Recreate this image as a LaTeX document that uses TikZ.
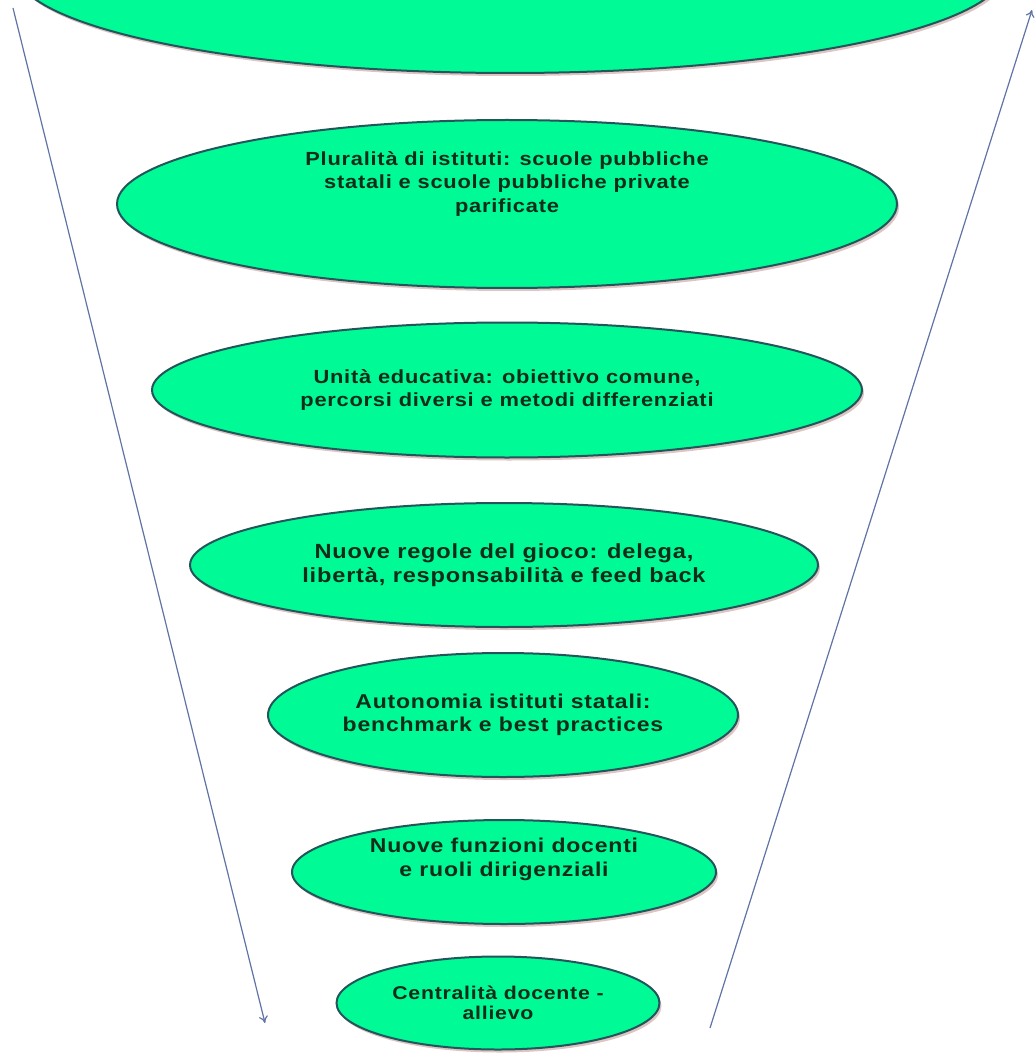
\documentclass[tikz,border=0pt]{standalone}
\usepackage{fontspec}
\setmainfont{Liberation Sans}
\newfontfamily\bubblefont[FakeStretch=1.15,LetterSpace=4]{Liberation Sans}
\usetikzlibrary{arrows.meta,shapes.geometric,shadows}
\definecolor{bubblefill}{RGB}{0,250,150}
\definecolor{bubbleline}{RGB}{35,85,90}
\definecolor{bubbletext}{RGB}{15,45,25}
\definecolor{funnel}{RGB}{95,115,165}
\tikzstyle{bubble} = [draw=bubbleline, line width=2pt, fill=bubblefill, ellipse,
    inner sep=0pt, align=center, text=bubbletext,
    drop shadow={shadow xshift=2pt, shadow yshift=-3pt, fill=red!30!gray!60, opacity=0.6}]
\tikzstyle{funnelline} = [draw=funnel, line width=1.2pt]
\newcommand{\bubblesize}[1]{\fontsize{#1}{23.5}\bubblefont\bfseries}

\begin{document}
\begin{tikzpicture}[x=1pt,y=-1pt,>={To[length=7pt,width=9pt]}]
    \useasboundingbox (0,0) rectangle (1035,1056);
    \clip (0,0) rectangle (1035,1056);
    \node [bubble, minimum width=990, minimum height=206] (top) at (510,-30) {};
    \node [bubble, font=\bubblesize{19}, minimum width=780, minimum height=168, text depth=44pt] (plural) at (507,204)
        {Pluralità di istituti:  scuole pubbliche\\statali e scuole pubbliche private\\parificate};
    \node [bubble, font=\bubblesize{19}, minimum width=710, minimum height=135] (unita) at (507,390)
        {Unità educativa: obiettivo comune,\\percorsi diversi e metodi differenziati};
    \node [bubble, font=\bubblesize{20.5}, minimum width=628, minimum height=124] (regole) at (504,565)
        {Nuove regole del gioco: delega,\\libertà, responsabilità e feed back};
    \node [bubble, font=\bubblesize{20}, minimum width=470, minimum height=124] (autonomia) at (503,715)
        {Autonomia istituti statali:\\benchmark e best practices};
    \node [bubble, font=\bubblesize{20}, minimum width=424, minimum height=104,
        text depth=30pt] (funzioni) at (504,872)
        {Nuove funzioni docenti\\e ruoli dirigenziali};
    \node [bubble, font=\fontsize{18.5}{19.5}\bubblefont\bfseries, minimum width=323, minimum height=93] (centro) at (498,1003)
        {Centralità docente -\\allievo};
    \coordinate (lefttop) at (13,8);
    \coordinate (leftend) at (265,1023);
    \coordinate (rightstart) at (710,1028);
    \coordinate (righttop) at (1032,10);
    \draw [funnelline,->] (lefttop) -- (leftend);
    \draw [funnelline,->] (rightstart) -- (righttop);
\end{tikzpicture}
\end{document}
